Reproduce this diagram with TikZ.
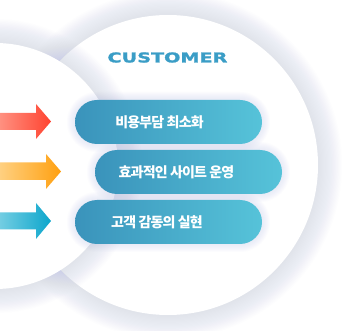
\documentclass[tikz,border=0pt]{standalone}
\usepackage{fontspec}
\newfontfamily\kr{Noto Sans CJK KR}
\newfontfamily\lat{DejaVu Sans}
\usetikzlibrary{calc}
\definecolor{shad}{HTML}{B8BEE8}
\definecolor{custblue}{HTML}{3A9DC6}
\definecolor{pillL}{HTML}{3A93BB}
\definecolor{pillR}{HTML}{56C3D9}
\definecolor{redL}{HTML}{FF9080}
\definecolor{redR}{HTML}{FF4330}
\definecolor{orL}{HTML}{FFD080}
\definecolor{orR}{HTML}{FFA010}
\definecolor{blL}{HTML}{72CDE2}
\definecolor{blR}{HTML}{0CA6CC}
\tikzset{
  pill/.style={rectangle, rounded corners=22pt, minimum width=187pt, minimum height=44pt,
    inner sep=0pt, left color=pillL, right color=pillR, draw=none},
  pilltext/.style={font=\kr\bfseries\fontsize{14}{14}\selectfont\addfontfeature{LetterSpace=-6}, text=white, inner sep=0pt},
  glow/.style={fill=shad, opacity=0.02},
}
\begin{document}
\begin{tikzpicture}[x=1pt,y=-1pt]
\useasboundingbox (0,0) rectangle (343,331);
\clip (0,0) rectangle (343,331);
\fill[white] (0,0) rectangle (343,331);
% big circle
\foreach \i in {1,...,20} \fill[glow] (168,165) circle ({(150+\i*1.2)*1pt});
\fill[white] (168,165) circle (150pt);
% small circle
\foreach \i in {1,...,20} \fill[glow] (-5,166) circle ({(123+\i*1.2)*1pt});
\fill[white] (-5,166) circle (123pt);
% title
\node[font=\lat\bfseries\fontsize{13.5}{13.5}\selectfont\addfontfeature{FakeBold=1.5}, text=custblue, xscale=1.42] (title) at (167.5,57.5) {CUSTOMER};
% pill glows
\foreach \x/\y in {75/100, 95/150, 75/200}{
  \foreach \i in {1,...,8}
    \fill[fill=shad, opacity=0.035, rounded corners={(22+\i)*1pt}] ({\x-\i},{\y-\i}) rectangle ({\x+187+\i},{\y+44+\i});
}
% pills
\node[pill] (p1) at (168.5,122) {};
\node[pill] (p2) at (188.5,172) {};
\node[pill] (p3) at (168.5,222) {};
\node[pilltext] (t1) at ([xshift=-9pt]p1.center) {비용부담 최소화};
\node[pilltext] (t2) at ([xshift=-12pt]p2.center) {효과적인 사이트 운영};
\node[pilltext] (t3) at ([xshift=-11.5pt]p3.center) {고객 감동의 실현};
% arrows
\shade[left color=redL, right color=redR] (0,113) -- (36,113) -- (36,104) -- (51,121.5) -- (36,139) -- (36,130) -- (0,130) -- cycle;
\shade[left color=orL, right color=orR] (0,162.5) -- (46,162.5) -- (46,154) -- (61,171.5) -- (46,189) -- (46,180) -- (0,180) -- cycle;
\shade[left color=blL, right color=blR] (0,212.5) -- (36,212.5) -- (36,203) -- (51,221) -- (36,239) -- (36,229.5) -- (0,229.5) -- cycle;
\end{tikzpicture}
\end{document}
